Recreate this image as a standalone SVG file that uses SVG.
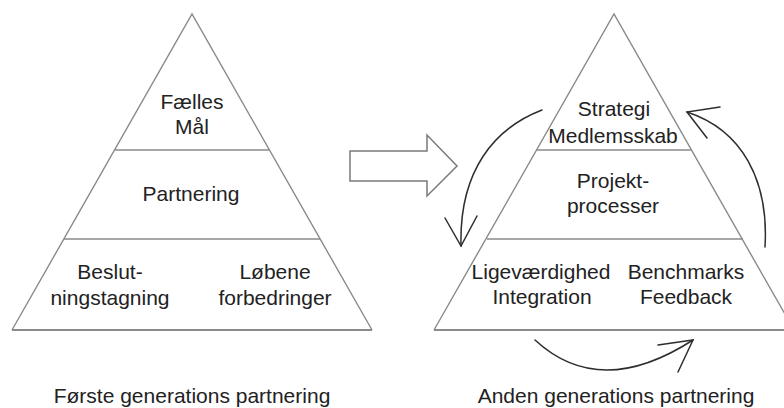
<svg xmlns="http://www.w3.org/2000/svg" width="784" height="408" viewBox="0 0 784 408">
  <style>
    .edge { fill: none; stroke: #8a8a8a; stroke-width: 1.4; }
    .base { fill: none; stroke: #8a8a8a; stroke-width: 2; }
    .cycle { fill: none; stroke: #2e2e2e; stroke-width: 1.5; stroke-linecap: round; }
    .lbl { font-family: "Liberation Sans", Arial, sans-serif; font-size: 21px; fill: #222; text-anchor: middle; }
  </style>

  <!-- first generation pyramid -->
  <g id="pyramid-first">
    <path class="edge" d="M12,330 L192,14 L372,330"/>
    <line class="base" x1="12" y1="330" x2="372" y2="330"/>
    <g id="first-top">
      <line class="edge" x1="115" y1="150" x2="269" y2="150"/>
      <text class="lbl" x="192" y="109">Fælles</text>
      <text class="lbl" x="192" y="134">Mål</text>
    </g>
    <g id="first-middle">
      <line class="edge" x1="64" y1="239" x2="320" y2="239"/>
      <text class="lbl" x="191" y="201">Partnering</text>
    </g>
    <g id="first-bottom">
      <text class="lbl" x="110" y="279">Beslut-</text>
      <text class="lbl" x="110" y="305">ningstagning</text>
      <text class="lbl" x="275" y="279">Løbene</text>
      <text class="lbl" x="275" y="305">forbedringer</text>
    </g>
    <text id="caption-first" class="lbl" x="192" y="403">Første generations partnering</text>
  </g>

  <!-- second generation pyramid -->
  <g id="pyramid-second">
    <path class="edge" d="M434,330 L614,14 L794,330"/>
    <line class="base" x1="434" y1="330" x2="784" y2="330"/>
    <g id="second-top">
      <line class="edge" x1="537" y1="150" x2="691" y2="150"/>
      <text class="lbl" x="614" y="116">Strategi</text>
      <text class="lbl" x="613" y="143">Medlemsskab</text>
    </g>
    <g id="second-middle">
      <line class="edge" x1="487" y1="239" x2="743" y2="239"/>
      <text class="lbl" x="613" y="188">Projekt-</text>
      <text class="lbl" x="613" y="213">processer</text>
    </g>
    <g id="second-bottom">
      <text class="lbl" x="541" y="279">Ligeværdighed</text>
      <text class="lbl" x="542" y="304">Integration</text>
      <text class="lbl" x="686" y="279">Benchmarks</text>
      <text class="lbl" x="686" y="304">Feedback</text>
    </g>
    <text id="caption-second" class="lbl" x="616" y="403">Anden generations partnering</text>
  </g>

  <!-- connectors: transition arrow and the improvement cycle -->
  <g id="connectors">
    <path d="M350,151 L427,151 L427,135 L457,166 L427,196 L427,181 L350,181 Z" fill="#fff" stroke="#7a7a7a" stroke-width="1.5" stroke-linejoin="miter"/>
    <path class="cycle" d="M542,110 C495,128 459,170 461,246"/>
    <path class="cycle" d="M445,218 L461,246 L477,216"/>
    <path class="cycle" d="M765,247 C769,180 742,130 687,112"/>
    <path class="cycle" d="M720,107 L687,112 L707,138"/>
    <path class="cycle" d="M535,340 Q600,400 693,340"/>
    <path class="cycle" d="M658,345 L693,340 L678,372"/>
  </g>
</svg>
